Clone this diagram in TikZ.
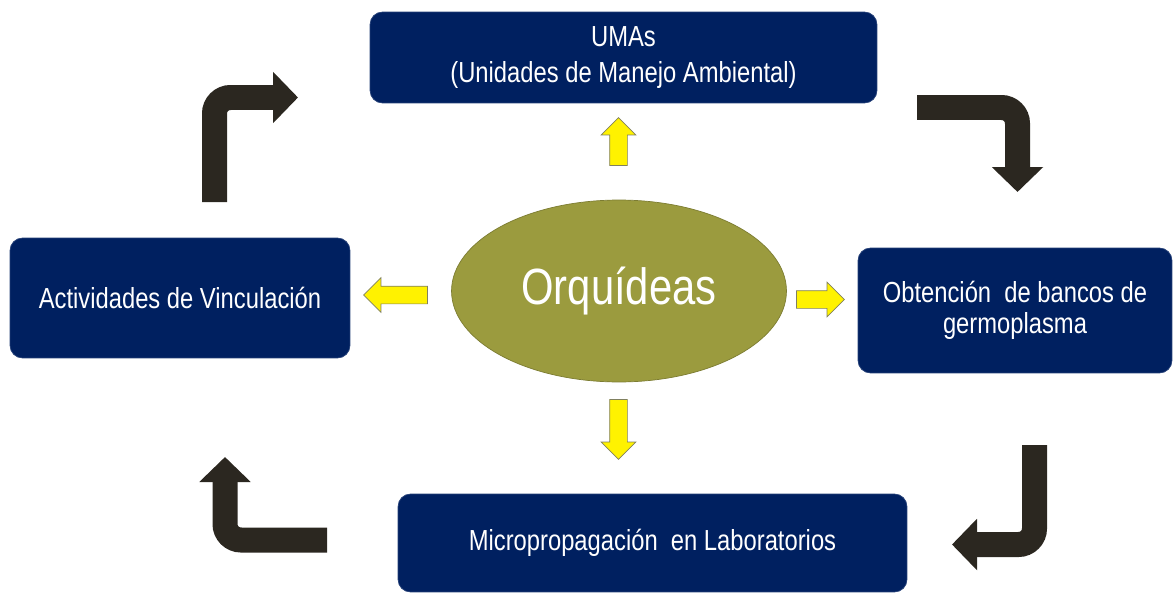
\documentclass[tikz,border=0pt]{standalone}
\usepackage{fontspec}
\setmainfont{Liberation Sans}[FakeStretch=0.82]
\usepackage{tikz}
\usetikzlibrary{arrows.meta}
\usetikzlibrary{shapes}
\definecolor{navy}{RGB}{0,32,96}
\definecolor{olive}{RGB}{155,155,62}
\definecolor{darkarrow}{RGB}{43,39,32}
\definecolor{yellowedge}{RGB}{128,128,96}
\tikzstyle{box} = [rectangle, rounded corners=0.25cm, draw=navy!85!white, fill=navy, text=white, align=center, font=\fontsize{16.5}{20}\selectfont]
\tikzstyle{center} = [ellipse, draw=olive!80!black, fill=olive, text=white, minimum width=6.7cm, minimum height=3.64cm, font=\fontsize{29}{34}\selectfont]
\tikzstyle{yarrow} = [single arrow, draw=yellowedge, fill=yellow, inner sep=0.17cm, single arrow head extend=0.17cm, minimum width=0.68cm]
\tikzstyle{bent} = [darkarrow, line width=0.5cm, rounded corners=0.32cm, -{Triangle[width=1cm,length=0.5cm]}]

\begin{document}
\begin{tikzpicture}[x=0.02cm, y=-0.02cm]
    \useasboundingbox (0,0) rectangle (1173,595);

    \node (umas) [box, minimum width=10.14cm, minimum height=1.82cm] at (623.5,57.5) {UMAs\\(Unidades de Manejo Ambiental)};
    \node (vinc) [box, minimum width=6.8cm, minimum height=2.4cm] at (180,298) {Actividades de Vinculación};
    \node (obt) [box, minimum width=6.28cm, minimum height=2.5cm, font=\fontsize{16.5}{18}\selectfont] at (1015,310.5) {Obtención\ \ de bancos de\\germoplasma};
    \node (micro) [box, minimum width=10.18cm, minimum height=1.96cm] at (652.5,543) {Micropropagación\ \ en Laboratorios};
    \node (orq) [center] at (619,291) {Orquídeas};

    % yellow arrows out of the centre
    \node (up) [yarrow, minimum height=0.96cm, rotate=90] at (618.5,146) {};
    \node (left) [yarrow, minimum height=1.28cm, rotate=180] at (400,295) {};
    \node (right) [yarrow, minimum height=0.96cm] at (816,299.5) {};
    \node (down) [yarrow, minimum height=1.2cm, rotate=-90] at (618.5,425) {};

    % dark bent arrows round the cycle
    \coordinate (fromVinc) at (214.5,202);
    \coordinate (toUMAs) at (298,97.5);
    \coordinate (fromUMAs) at (917,107.5);
    \coordinate (toObt) at (1017.5,192);
    \coordinate (fromObt) at (1034.5,445);
    \coordinate (toMicro) at (952,544.5);
    \coordinate (fromMicro) at (327,540);
    \coordinate (toVinc) at (225,457);

    \draw[bent] (fromVinc) |- (toUMAs);
    \draw[bent] (fromUMAs) -| (toObt);
    \draw[bent] (fromObt) |- (toMicro);
    \draw[bent] (fromMicro) -| (toVinc);
\end{tikzpicture}
\end{document}
